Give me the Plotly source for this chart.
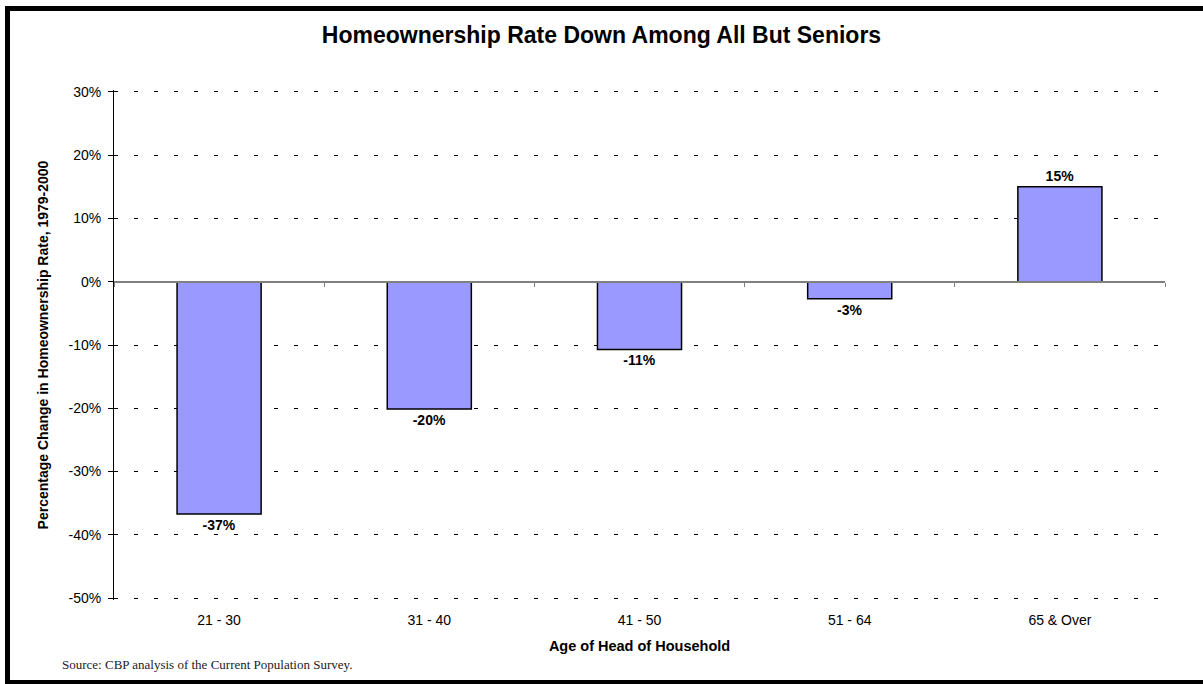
import plotly.graph_objects as go

categories = ["21 - 30", "31 - 40", "41 - 50", "51 - 64", "65 & Over"]
values = [-36.7, -20.1, -10.7, -2.7, 15.0]
y_ticks = [30, 20, 10, 0, -10, -20, -30, -40, -50]
y_tick_labels = [f"{v}%" for v in y_ticks]

title = "Homeownership Rate Down Among All But Seniors"
y_title = "Percentage Change in Homeownership Rate, 1979-2000"
x_title = "Age of Head of Household"
source = "Source: CBP analysis of the Current Population Survey."

W, H = 1203, 684
L, R, T, B = 114, 38, 90, 84
pw, ph = W - L - R, H - T - B
ymin, ymax = -50, 30
pad = 0.3


def px_x(p):
    return (p - L) / pw


def px_y(p):
    return (H - B - p) / ph


fig = go.Figure()
fig.add_trace(go.Bar(
    x=categories, y=values,
    marker=dict(color="#9999FF", line=dict(color="black", width=1.5)),
    texttemplate="%{y:.0f}%", textposition="outside",
    textfont=dict(family="Liberation Sans, Arial", size=14, color="black", weight="bold"),
    cliponaxis=False, hoverinfo="skip", showlegend=False,
))
fig.add_trace(go.Scatter(
    x=categories, y=[0] * len(categories), xaxis="x2", mode="lines",
    line=dict(width=0), hoverinfo="skip", showlegend=False,
))

r0, r1 = ymin - pad, ymax + pad
zero_pos = (0 - r0) / (r1 - r0)

fig.update_layout(
    width=W, height=H,
    margin=dict(l=L, r=R, t=T, b=B),
    paper_bgcolor="white", plot_bgcolor="white",
    bargap=0.6,
    font=dict(family="Liberation Sans, Arial", color="black"),
    title=dict(text=title, x=0.5, xref="container", xanchor="center",
               y=1 - 35 / H, yref="container", yanchor="middle",
               font=dict(size=23, weight="bold")),
    xaxis=dict(
        showline=False, ticks="", showgrid=False, zeroline=False,
        tickfont=dict(size=14), ticklabelstandoff=10,
        title=dict(text=x_title, font=dict(size=14.5, weight="bold"), standoff=13),
    ),
    xaxis2=dict(
        overlaying="x", matches="x", anchor="free", position=zero_pos,
        showline=True, linecolor="#808080", linewidth=2,
        ticks="outside", tickson="boundaries", ticklen=4, tickcolor="#808080", tickwidth=1,
        showticklabels=False, showgrid=False, zeroline=False,
    ),
    yaxis=dict(
        range=[r0, r1], tickvals=y_ticks, ticktext=y_tick_labels,
        showline=True, linecolor="black", linewidth=1,
        ticks="outside", ticklen=5, tickcolor="black",
        tickfont=dict(size=14), ticklabelstandoff=4,
        showgrid=True, gridcolor="black", gridwidth=1, griddash="4px,16px",
        zeroline=False,
        title=dict(text=y_title, font=dict(size=14, weight="bold"), standoff=16),
    ),
    shapes=[dict(
        type="rect", xref="paper", yref="paper",
        x0=px_x(7.5), x1=px_x(1210), y0=px_y(682.5), y1=px_y(8.5),
        line=dict(color="black", width=5), layer="above",
    )],
    annotations=[dict(
        text=source, xref="paper", yref="paper",
        x=px_x(60), y=px_y(664), xanchor="left", yanchor="middle",
        showarrow=False, font=dict(family="Liberation Serif, serif", size=13, color="#222"),
    )],
)

fig.write_html("out.html", config={"displayModeBar": False},
               post_script="document.body.style.margin='0px';")
